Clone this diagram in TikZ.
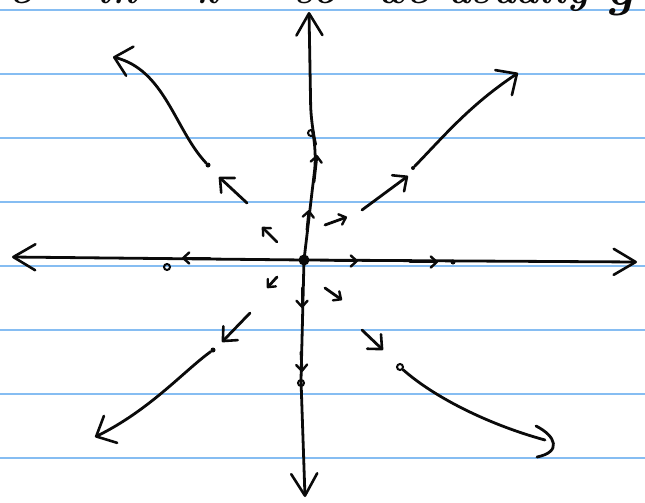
\documentclass[tikz,border=0pt]{standalone}
\usepackage{xcolor}
\usepackage{tikz}
\usetikzlibrary{arrows.meta}
\definecolor{ruleblue}{HTML}{86BDF2}
\definecolor{ink}{HTML}{0A0A0A}

\begin{document}
\begin{tikzpicture}[x=1pt, y=-1pt,
  pen/.style={draw=ink, line width=2.8pt, line cap=round, line join=round},
  axistip/.style={-{Straight Barb[length=22pt, width=26pt, line width=2.6pt, round]}},
  bigtip/.style={-{Straight Barb[length=16pt, width=30pt, line width=2.6pt, round]}},
  midtip/.style={-{Straight Barb[length=11pt, width=20pt, line width=2.6pt, round]}},
  smalltip/.style={-{Straight Barb[length=6pt, width=11pt, line width=2.4pt, round]}},
  hollow/.style={circle, draw=ink, line width=2pt, inner sep=0pt, minimum size=6pt},
  blob/.style={circle, fill=ink, inner sep=0pt, minimum size=5pt},
  word/.style={anchor=base, inner sep=0pt, text=ink,
    font=\fontsize{40}{40}\selectfont\bfseries\itshape}]
  \useasboundingbox (0,0) rectangle (645,503);
  \clip (0,0) rectangle (645,503);
  % ruled paper
  \foreach \y in {10,74,...,458}
    \draw[ruleblue, line width=1.6pt] (0,\y) -- (645,\y);
  % cut-off line of writing at the top
  \node[word] (w1) at (20,4) {e};
  \node[word] (w2) at (117,4) {in};
  \node[word] (w3) at (208,4) {k};
  \node[word] (w4) at (316,4) {so};
  \node[word] (w5) at (402,4) {we};
  \node[word] (w6) at (518,4) {usually};
  \node[word, font=\fontsize{52}{52}\selectfont\bfseries\itshape] (w7) at (620,6) {g};

  % the fixed point and the marked points
  \node[circle, fill=ink, inner sep=0pt, minimum size=11pt] (O) at (304,260) {};
  \node[hollow] (pw) at (167,267) {};
  \node[blob] (pe) at (453,262) {};
  \node[hollow] (pn) at (311,133) {};
  \node[hollow] (ps) at (301,383) {};
  \node[blob] (pnw) at (208,165) {};
  \node[blob, minimum size=4pt] (pne) at (413,168) {};
  \node[blob] (psw) at (213,350) {};
  \node[hollow] (pse) at (400,367) {};

  % axes
  \draw[pen, axistip] (O.center) -- (12,257);
  \draw[pen, axistip] (O.center) -- (637,262);
  \draw[pen, axistip, rounded corners=20pt] (O.center) -- (317,150) -- (311,125) -- (309,12);
  \draw[pen, axistip] (O.center) -- (301,380) -- (305,497);

  % little arrows on the axes
  \draw[pen, smalltip] (210,258) -- (182,258);
  \draw[pen, smalltip] (335,261) -- (358,261);
  \draw[pen, smalltip] (410,262) -- (438,262);
  \draw[pen, smalltip] (314,182) -- (317,155);
  \draw[pen, smalltip] (307,230) -- (309,210);
  \draw[pen, smalltip] (302,288) -- (302,308);
  \draw[pen, smalltip] (301,352) -- (302,372);

  % little arrows on the diagonals
  \draw[pen, smalltip] (277,242) -- (262,227);
  \draw[pen, smalltip] (325,225) -- (347,217);
  \draw[pen, smalltip] (277,277) -- (267,288);
  \draw[pen, smalltip] (325,288) -- (342,300);

  \draw[pen, midtip] (247,203) -- (219,177);
  \draw[pen, midtip] (362,210) -- (408,176);
  \draw[pen, midtip] (250,313) -- (222,342);
  \draw[pen, midtip] (362,330) -- (383,350);

  % trajectories leaving the marked points
  \draw[pen, bigtip] (pnw) .. controls (175,130) and (165,70) .. (113,57);
  \draw[pen, bigtip] (pne) .. controls (445,135) and (470,105) .. (518,73);
  \draw[pen, bigtip] (psw) .. controls (185,370) and (150,410) .. (95,437);
  \draw[pen] (pse) .. controls (435,398) and (490,425) .. (545,440);
  \draw[pen] (536,426) .. controls (556,436) and (562,452) .. (537,457);
\end{tikzpicture}
\end{document}
